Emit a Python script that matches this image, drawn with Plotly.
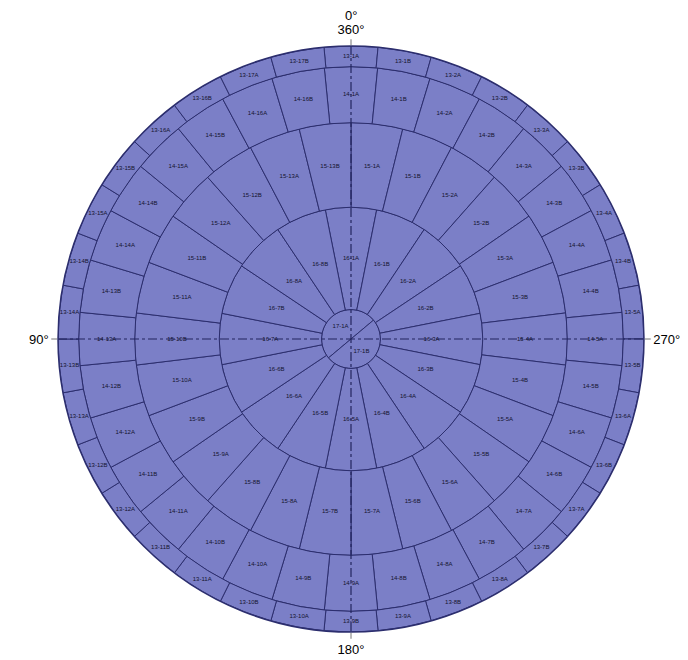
import plotly.graph_objects as go

# ring geometry (radial units), from centre outwards
ring_ids = ["17", "16", "15", "14", "13"]
ring_inner = [0, 30, 134, 220, 277]
ring_outer = [30, 134, 220, 277, 298]
first_cell_center = [40.0, 0.0, -6.923, 0.0, 0.0]  # degrees, cells then run clockwise

labels_17 = ["17-1A", "17-1B"]
labels_16 = ["16-1A", "16-1B", "16-2A", "16-2B", "16-3A", "16-3B", "16-4A", "16-4B",
             "16-5A", "16-5B", "16-6A", "16-6B", "16-7A", "16-7B", "16-8A", "16-8B"]
labels_15 = ["15-1A", "15-1B", "15-2A", "15-2B", "15-3A", "15-3B", "15-4A", "15-4B",
             "15-5A", "15-5B", "15-6A", "15-6B", "15-7A", "15-7B", "15-8A", "15-8B",
             "15-9A", "15-9B", "15-10A", "15-10B", "15-11A", "15-11B", "15-12A", "15-12B",
             "15-13A", "15-13B"]
labels_14 = ["14-1A", "14-1B", "14-2A", "14-2B", "14-3A", "14-3B", "14-4A", "14-4B",
             "14-5A", "14-5B", "14-6A", "14-6B", "14-7A", "14-7B", "14-8A", "14-8B",
             "14-9A", "14-9B", "14-10A", "14-10B", "14-11A", "14-11B", "14-12A", "14-12B",
             "14-13A", "14-13B", "14-14A", "14-14B", "14-15A", "14-15B", "14-16A", "14-16B"]
labels_13 = ["13-1A", "13-1B", "13-2A", "13-2B", "13-3A", "13-3B", "13-4A", "13-4B",
             "13-5A", "13-5B", "13-6A", "13-6B", "13-7A", "13-7B", "13-8A", "13-8B",
             "13-9A", "13-9B", "13-10A", "13-10B", "13-11A", "13-11B", "13-12A", "13-12B",
             "13-13A", "13-13B", "13-14A", "13-14B", "13-15A", "13-15B", "13-16A", "13-16B",
             "13-17A", "13-17B"]
ring_labels = [labels_17, labels_16, labels_15, labels_14, labels_13]

axis_angles = [0, 90, 180, 270]
axis_text = ["360°", "90°", "180°", "270°"]
top_extra_text = "0°"

FILL = "#7b7fc7"
EDGE = "#2c2e6e"

fig = go.Figure()

for inner, outer, start, labels in zip(ring_inner, ring_outer, first_cell_center, ring_labels):
    n = len(labels)
    width = 360.0 / n
    thetas = [(start - k * width) % 360 for k in range(n)]
    fig.add_trace(go.Barpolar(
        r=[outer - inner] * n,
        base=[inner] * n,
        theta=thetas,
        width=[width] * n,
        marker=dict(color=FILL, line=dict(color=EDGE, width=1)),
        opacity=1,
        hoverinfo="skip",
        showlegend=False,
    ))

# dash-dot reference axes through the centre
R = ring_outer[-1]
for a in (0, 90):
    fig.add_trace(go.Scatterpolar(
        r=[R, 0, R], theta=[a, a, a + 180], mode="lines",
        line=dict(color="#23255e", width=1.2, dash="dashdot"),
        hoverinfo="skip", showlegend=False,
    ))

# cell labels
for inner, outer, start, labels in zip(ring_inner, ring_outer, first_cell_center, ring_labels):
    n = len(labels)
    width = 360.0 / n
    thetas = [(start - k * width) % 360 for k in range(n)]
    rmid = (inner + outer) / 2 if inner > 0 else outer * 0.55
    fig.add_trace(go.Scatterpolar(
        r=[rmid] * n, theta=thetas, mode="text", text=labels,
        textfont=dict(size=6, color="#14142e", family="Liberation Sans"),
        hoverinfo="skip", showlegend=False,
    ))

fig.update_layout(
    width=688, height=660,
    margin=dict(l=50, r=52, t=38, b=36),
    paper_bgcolor="white",
    polar=dict(
        bgcolor="white",
        domain=dict(x=[0, 1], y=[0, 1]),
        bargap=0,
        radialaxis=dict(visible=False, range=[0, R]),
        angularaxis=dict(
            rotation=90, direction="counterclockwise",
            tickmode="array", tickvals=axis_angles, ticktext=axis_text,
            ticks="outside", ticklen=6, tickcolor="#777777", tickwidth=1,
            showgrid=False, showline=True, linecolor=EDGE, linewidth=1.5,
            tickfont=dict(size=13, color="black", family="Liberation Sans"),
        ),
    ),
    annotations=[dict(
        text=top_extra_text, xref="paper", yref="paper", x=0.5, y=1,
        xanchor="center", yanchor="bottom", yshift=21, showarrow=False,
        font=dict(size=13, color="black", family="Liberation Sans"),
    )],
)

fig.write_html("out.html")
